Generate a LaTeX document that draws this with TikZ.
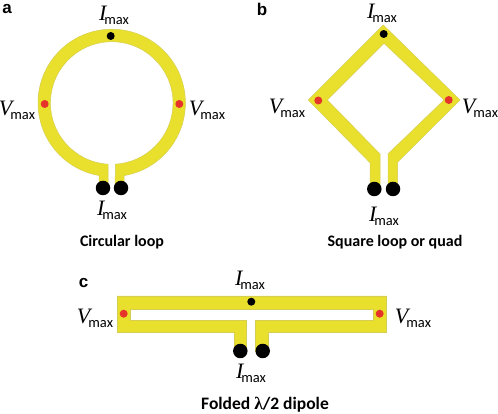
\documentclass[tikz,border=0pt]{standalone}
\usepackage{fontspec}
\setsansfont{Carlito}
\newfontfamily\serifital{Liberation Serif}
\newfontfamily\panelfont{Liberation Sans}
\usepackage{tikz}
\usetikzlibrary{positioning}
\definecolor{wireyellow}{HTML}{E9E02E}
\definecolor{wireedge}{HTML}{D6CE50}
\definecolor{dotred}{HTML}{E5352A}
\newcommand{\maxlabel}[1]{{\serifital\itshape\fontsize{22}{22}\selectfont #1}\kern-2pt\raisebox{-4pt}{\sffamily\fontsize{14.5}{14.5}\selectfont max}}
\tikzset{
  wire/.style={fill=wireyellow,draw=wireedge,line width=0.5pt},
  feeddot/.style={circle,fill=black,inner sep=0pt,minimum size=14.5pt},
  imaxdot/.style={circle,fill=black,inner sep=0pt,minimum size=8pt},
  vmaxdot/.style={circle,fill=dotred,inner sep=0pt,minimum size=8pt},
  caption/.style={font=\sffamily\bfseries\fontsize{16}{16}\selectfont,inner sep=0pt},
  panel/.style={font=\panelfont\bfseries\fontsize{17}{17}\selectfont,inner sep=0pt}
}
\begin{document}
\begin{tikzpicture}[x=1pt,y=1pt,every node/.style={inner sep=0pt}]
  \useasboundingbox (0,0) rectangle (498,414);
  % circular loop
  \draw[wire] (108,226) -- (108,249.8)
    arc[start angle=266.5,end angle=-86.5,radius=61.3pt] -- (115,226) -- (124,226) -- (124,238.4)
    arc[start angle=-80.4,end angle=260.1,radius=73.7pt] -- (99,226) -- cycle;
  \node[panel] (a) at (7,405) {a};
  \node[imaxdot] (atop) at (110.7,378) {};
  \node[vmaxdot] (aleft) at (44.7,310) {};
  \node[vmaxdot] (aright) at (179.3,310) {};
  \node[feeddot] (afeedl) at (103,226) {};
  \node[feeddot] (afeedr) at (121,226) {};
  \node (aimaxtop) at (114,399) {\maxlabel{I}};
  \node (aimaxbot) at (112,204) {\maxlabel{I}};
  \node (avmaxl) at (17,304) {\maxlabel{V}};
  \node (avmaxr) at (207,304) {\maxlabel{V}};
  \node[caption] (acap) at (122,172) {Circular loop};
  % square loop
  \draw[wire] (383.3,389) -- (460,314) -- (397.7,252) -- (397.7,225) -- (388,225) -- (388,260)
    -- (444,314) -- (384,370.7) -- (327.3,314) -- (380,260) -- (380,225) -- (370,225) -- (370,251.3)
    -- (308.3,314) -- cycle;
  \node[panel] (b) at (262,405) {b};
  \node[imaxdot] (btop) at (383.7,380) {};
  \node[vmaxdot] (bleft) at (318.3,313.5) {};
  \node[vmaxdot] (bright) at (448.7,314) {};
  \node[feeddot] (bfeedl) at (374.3,225) {};
  \node[feeddot] (bfeedr) at (393,225) {};
  \node (bimaxtop) at (382,401) {\maxlabel{I}};
  \node (bimaxbot) at (384,198) {\maxlabel{I}};
  \node (bvmaxl) at (287,306) {\maxlabel{V}};
  \node (bvmaxr) at (480,306) {\maxlabel{V}};
  \node[caption] (bcap) at (395,172) {Square loop or quad};
  % folded dipole
  \draw[wire,even odd rule] (117.3,118) -- (386,118) -- (386,81.3) -- (268.7,81.3) -- (268.7,63)
    -- (255.7,63) -- (255.7,93.3) -- (373,93.3) -- (373,105) -- (130,105) -- (130,93.3)
    -- (246.7,93.3) -- (246.7,63) -- (234.3,63) -- (234.3,81.3) -- (117.3,81.3) -- cycle;
  \node[panel] (c) at (83.5,131) {c};
  \node[imaxdot] (ctop) at (251.3,112.3) {};
  \node[vmaxdot] (cleft) at (123.7,100.3) {};
  \node[vmaxdot] (cright) at (379.7,100.3) {};
  \node[feeddot] (cfeedl) at (240.3,63) {};
  \node[feeddot] (cfeedr) at (262.7,63) {};
  \node (cimaxtop) at (250,134) {\maxlabel{I}};
  \node (cimaxbot) at (251,41) {\maxlabel{I}};
  \node (cvmaxl) at (95,96) {\maxlabel{V}};
  \node (cvmaxr) at (413,96) {\maxlabel{V}};
  \node[caption,font=\sffamily\bfseries\fontsize{17.5}{17.5}\selectfont] (ccap) at (265,9) {Folded {\serifital λ}/2 dipole};
\end{tikzpicture}
\end{document}
